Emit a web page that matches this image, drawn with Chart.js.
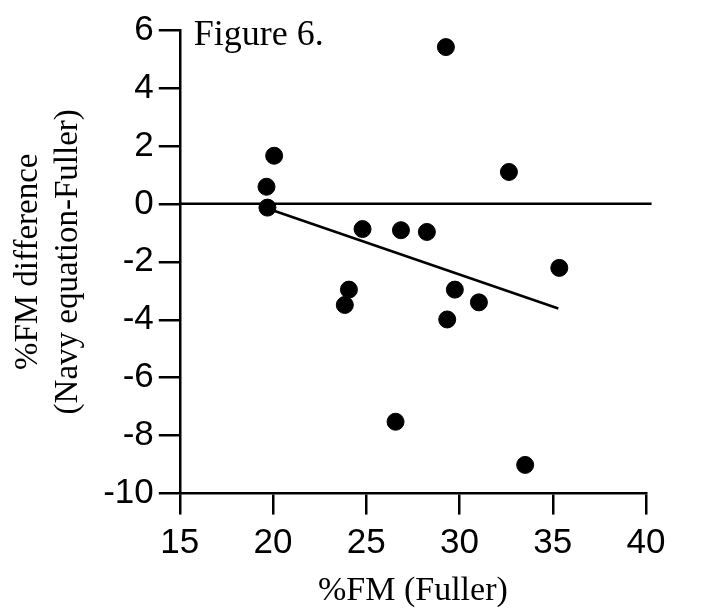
<!DOCTYPE html>
<html>
<head>
<meta charset="utf-8">
<title>Figure 6</title>
<script src="https://cdn.jsdelivr.net/npm/chart.js"></script>
<style>
	body { margin: 0; background: #fff; }
</style>
</head>
<body>
<canvas id="scatter-fm" width="718" height="610"></canvas>
<script>
// %FM measured by the Fuller method and the Navy equation - Fuller difference
var fuller = [29.27, 20.06, 32.65, 19.65, 19.70, 24.80, 26.86, 28.25, 35.35, 24.07, 23.85, 29.75, 31.04, 29.34, 26.57, 33.52];
var difference = [5.41, 1.66, 1.10, 0.59, -0.13, -0.87, -0.91, -0.97, -2.21, -2.96, -3.49, -2.96, -3.40, -3.99, -7.52, -9.01];

// regression line end points
var fitX = [19.70, 35.30];
var fitY = [-0.16, -3.61];

// reference line at zero
var zeroX = [15, 40.3];
var zeroY = [0, 0];

var xTicks = [15, 20, 25, 30, 35, 40];
var yTicks = [-10, -8, -6, -4, -2, 0, 2, 4, 6];

function toPoints(xs, ys) {
	var pts = [];
	for (let i in xs) {
		pts.push({x: xs[i], y: ys[i]});
	}
	return pts;
}

var figureLabel = {
	id: 'figureLabel',
	afterDraw: function(chart) {
		var ctx = chart.ctx;
		var x = chart.scales.x.getPixelForValue(15);
		var y = chart.scales.y.getPixelForValue(6);
		ctx.save();
		ctx.fillStyle = '#000';
		ctx.font = '36px "Liberation Serif"';
		ctx.textBaseline = 'alphabetic';
		ctx.fillText('Figure 6.', x + 14, y + 15);
		ctx.restore();
	}
};

var tickFont = {family: '"Liberation Sans", Arial, sans-serif', size: 35, lineHeight: 1.2};

var ctx = document.getElementById('scatter-fm');

var chart = new Chart(ctx, {
	type: 'scatter',
	data: {
		datasets: [
			{
				label: 'zero',
				type: 'line',
				data: toPoints(zeroX, zeroY),
				borderColor: '#000',
				borderWidth: 2.5,
				pointRadius: 0,
				fill: false,
				clip: false
			},
			{
				label: 'fit',
				type: 'line',
				data: toPoints(fitX, fitY),
				borderColor: '#000',
				borderWidth: 2.5,
				pointRadius: 0,
				fill: false
			},
			{
				label: 'subjects',
				data: toPoints(fuller, difference),
				backgroundColor: '#000',
				borderColor: '#000',
				pointRadius: 8.5,
				pointHoverRadius: 8.5
			}
		]
	},
	options: {
		responsive: false,
		animation: false,
		events: [],
		layout: {
			padding: {left: 0, top: 30, right: 72, bottom: 0}
		},
		plugins: {
			legend: {display: false},
			tooltip: {enabled: false}
		},
		scales: {
			x: {
				type: 'linear',
				min: 15,
				max: 40,
				afterBuildTicks: function(axis) {
					axis.ticks = xTicks.map(function(v) { return {value: v}; });
				},
				grid: {
					drawOnChartArea: false,
					drawTicks: true,
					tickLength: 21,
					tickColor: '#000',
					lineWidth: 2.5
				},
				border: {display: true, color: '#000', width: 2.5},
				ticks: {
					color: '#000',
					font: tickFont,
					padding: 8,
					maxRotation: 0
				},
				title: {
					display: true,
					text: '%FM (Fuller)',
					color: '#000',
					font: {family: '"Liberation Serif", "Times New Roman", serif', size: 34, lineHeight: 1.1},
					padding: {top: 0, bottom: 0}
				}
			},
			y: {
				type: 'linear',
				min: -10,
				max: 6,
				afterBuildTicks: function(axis) {
					axis.ticks = yTicks.map(function(v) { return {value: v}; });
				},
				grid: {
					drawOnChartArea: false,
					drawTicks: true,
					tickLength: 21,
					tickColor: '#000',
					lineWidth: 2.5
				},
				border: {display: true, color: '#000', width: 2.5},
				ticks: {
					color: '#000',
					font: tickFont,
					padding: 5
				},
				title: {
					display: true,
					text: ['%FM difference', '(Navy equation-Fuller)'],
					color: '#000',
					font: {family: '"Liberation Serif", "Times New Roman", serif', size: 33, lineHeight: 1.2},
					padding: {top: 9, bottom: 10}
				}
			}
		}
	},
	plugins: [figureLabel]
});
</script>
</body>
</html>
